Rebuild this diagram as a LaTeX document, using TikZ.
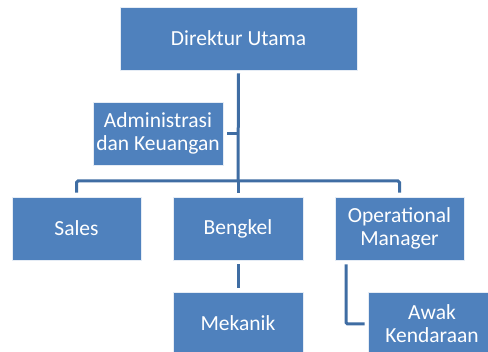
\documentclass[tikz,border=0pt]{standalone}
\usepackage{fontspec}
\setmainfont{Carlito}
\definecolor{boxblue}{HTML}{4F81BD}
\definecolor{lineblue}{HTML}{3F6DA3}
\begin{document}
\begin{tikzpicture}[x=1pt,y=-1pt,
  orgbox/.style={rectangle, fill=boxblue, draw=white!85!boxblue, line width=0.8pt,
    text=white, align=center, inner sep=0pt,
    font=\fontsize{21.5}{23.5}\selectfont},
  conn/.style={draw=lineblue, line width=3pt, rounded corners=1.5pt}]
\useasboundingbox (0,0) rectangle (488,352);
\clip (0,0) rectangle (488,352);
\node[orgbox, minimum width=237pt, minimum height=63pt] (dir) at (238.5,38.5) {Direktur Utama};
\node[orgbox, minimum width=130pt, minimum height=63pt] (adm) at (158,133.5) {Administrasi\\dan Keuangan};
\node[orgbox, minimum width=129pt, minimum height=63pt] (sales) at (76.5,228.5) {Sales};
\node[orgbox, minimum width=130pt, minimum height=63pt] (beng) at (238,228.5) {Bengkel};
\node[orgbox, minimum width=129pt, minimum height=63pt] (om) at (399.5,228.5) {Operational\\Manager};
\node[orgbox, minimum width=130pt, minimum height=63pt] (mek) at (238,323.5) {Mekanik};
\node[orgbox, minimum width=128pt, minimum height=63pt] (awak) at (432,323.5) {Awak\\Kendaraan};
\coordinate (bar) at (238,181);
\coordinate (admj) at (238,133.5);
\draw[conn] ([yshift=-3pt]dir.south) -- (bar);
\draw[conn] ([yshift=4pt]sales.north) |- (bar) -| ([yshift=4pt]om.north);
\draw[conn] ([yshift=4pt]beng.north) -- (bar);
\draw[conn] ([xshift=4pt]adm.east) -- (admj);
\draw[conn] ([yshift=-4pt]beng.south) -- ([yshift=4pt]mek.north);
\draw[conn] ([xshift=-53.5pt,yshift=-4pt]om.south) |- ([xshift=-3pt,yshift=-0.5pt]awak.west);
\end{tikzpicture}
\end{document}
